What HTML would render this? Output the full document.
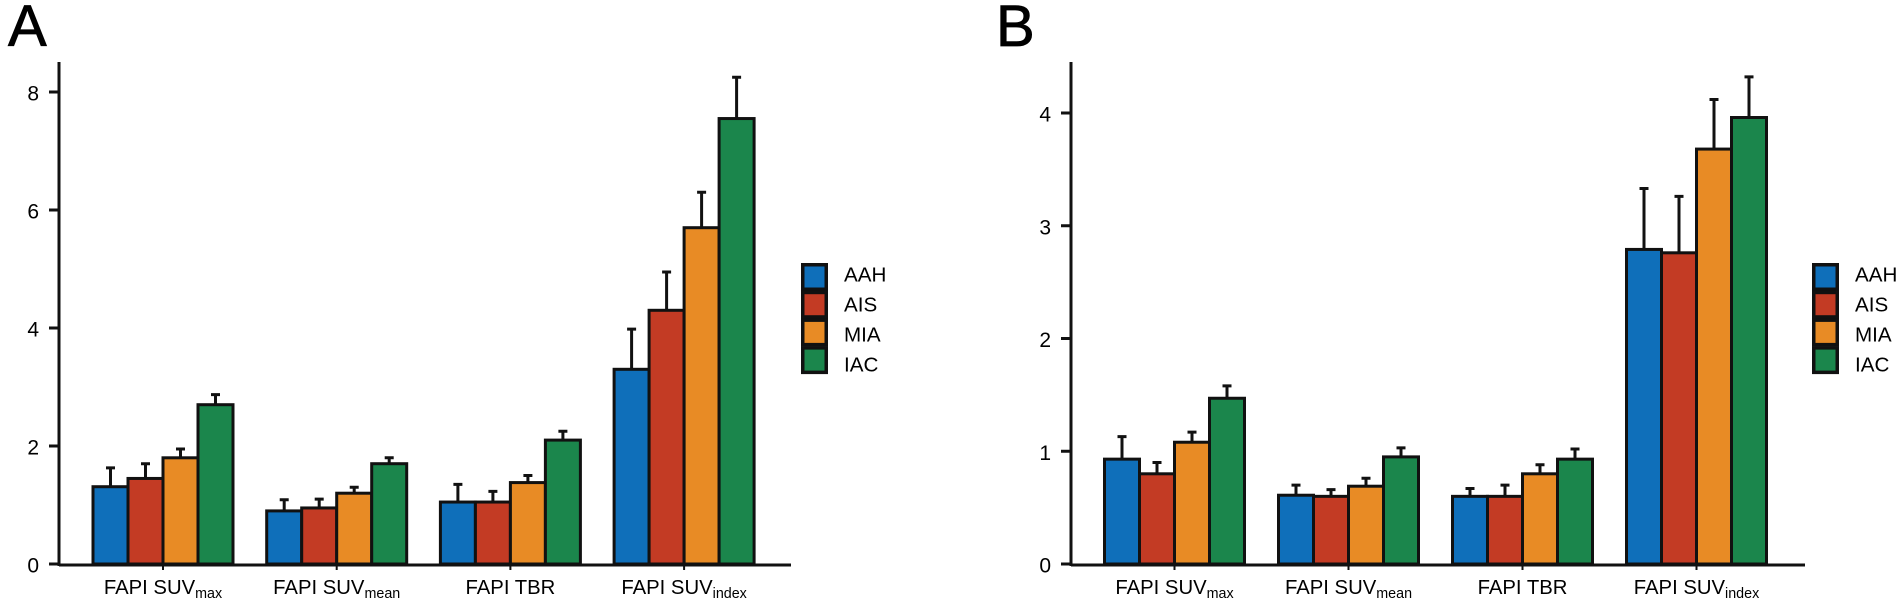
<!DOCTYPE html>
<html lang="en">
<head>
<meta charset="utf-8">
<title>FAPI uptake bar charts</title>
<style>
html,body{margin:0;padding:0;background:#fff;width:1902px;height:608px;overflow:hidden}
svg{display:block;font-family:"Liberation Sans",Arial,sans-serif}
</style>
</head>
<body>
<svg id="figure" width="1902" height="608" viewBox="0 0 1902 608" xmlns="http://www.w3.org/2000/svg"></svg>
<script>
const seriesNames = ['AAH', 'AIS', 'MIA', 'IAC'];
const seriesColors = ['#0f6fba', '#c33b24', '#e88b25', '#1b864c'];
const categoryMain = ['FAPI SUV', 'FAPI SUV', 'FAPI TBR', 'FAPI SUV'];
const categorySub = ['max', 'mean', '', 'index'];

const ticksA = [0, 2, 4, 6, 8];
const aahA = [1.31, 0.90, 1.05, 3.30];
const aisA = [1.45, 0.95, 1.05, 4.30];
const miaA = [1.80, 1.20, 1.38, 5.70];
const iacA = [2.70, 1.70, 2.10, 7.55];
const aahTopA = [1.63, 1.09, 1.35, 3.98];
const aisTopA = [1.70, 1.10, 1.23, 4.95];
const miaTopA = [1.95, 1.30, 1.50, 6.30];
const iacTopA = [2.87, 1.80, 2.25, 8.25];

const ticksB = [0, 1, 2, 3, 4];
const aahB = [0.93, 0.61, 0.60, 2.79];
const aisB = [0.80, 0.60, 0.60, 2.76];
const miaB = [1.08, 0.69, 0.80, 3.68];
const iacB = [1.47, 0.95, 0.93, 3.96];
const aahTopB = [1.13, 0.70, 0.67, 3.33];
const aisTopB = [0.90, 0.66, 0.70, 3.26];
const miaTopB = [1.17, 0.76, 0.88, 4.12];
const iacTopB = [1.58, 1.03, 1.02, 4.32];

const svg = document.getElementById('figure');
const NS = 'http://www.w3.org/2000/svg';
const INK = '#111';

function make(parent, tag, attrs, text) {
  const el = document.createElementNS(NS, tag);
  for (const k in attrs) el.setAttribute(k, attrs[k]);
  if (text !== undefined) el.textContent = text;
  parent.appendChild(el);
  return el;
}

function drawPanel(cfg) {
  const g = make(svg, 'g', {});
  
  

  const y = v => cfg.y0 - v * cfg.unit;
  const groupX = i => cfg.x0 + i * cfg.groupStep;
  const barX = (i, s) => groupX(i) + s * cfg.barStep;

  const letter = make(g, 'text', {x: cfg.letterX, y: 46, 'font-size': 58, fill: '#000', stroke: '#000', 'stroke-width': 0.8}, cfg.id.toUpperCase());
  
  

  cfg.series.forEach((vals, s) => {
    vals.forEach((v, i) => {
      const cx = barX(i, s) + cfg.barStep / 2;
      const top = cfg.tops[s][i];
      const err = make(g, 'path', {
        d: 'M' + cx + ' ' + y(v) + 'V' + y(top) + 'M' + (cx - 4.5) + ' ' + y(top) + 'H' + (cx + 4.5),
        stroke: INK, 'stroke-width': 3, fill: 'none'
      });
      
      
    });
  });

  cfg.series.forEach((vals, s) => {
    vals.forEach((v, i) => {
      const bar = make(g, 'rect', {
        x: barX(i, s), y: y(v), width: cfg.barStep, height: cfg.y0 - y(v),
        fill: seriesColors[s], stroke: INK, 'stroke-width': 3
      });
      
      
    });
  });

  const yAxis = make(g, 'line', {x1: cfg.axisX, x2: cfg.axisX, y1: 62, y2: cfg.y0 + 2, stroke: INK, 'stroke-width': 3});
  
  
  const xAxis = make(g, 'line', {x1: cfg.axisX, x2: cfg.axisEnd, y1: cfg.y0 + 1, y2: cfg.y0 + 1, stroke: INK, 'stroke-width': 3});
  
  

  cfg.ticks.forEach(t => {
    const tick = make(g, 'line', {x1: cfg.axisX - 10, x2: cfg.axisX, y1: y(t), y2: y(t), stroke: INK, 'stroke-width': 3});
    
    
    const lab = make(g, 'text', {x: cfg.axisX - 20, y: y(t) + 8.5, 'font-size': 21, 'text-anchor': 'end', fill: '#000'}, String(t));
    
    
  });

  categoryMain.forEach((name, i) => {
    const cx = groupX(i) + cfg.barStep * 2;
    const tick = make(g, 'line', {x1: cx, x2: cx, y1: cfg.y0, y2: cfg.y0 + 6, stroke: INK, 'stroke-width': 2});
    
    
    const lab = make(g, 'text', {x: cx, y: 594, 'font-size': 20.3, 'text-anchor': 'middle', fill: '#000'});
    
    
    make(lab, 'tspan', {}, name);
    if (categorySub[i]) make(lab, 'tspan', {dy: 4, 'font-size': 14.3}, categorySub[i]);
  });

  seriesNames.forEach((name, s) => {
    const item = make(g, 'g', {});
    
    
    make(item, 'rect', {
      x: cfg.legendX + 1.75, y: 264.75 + s * 27.7, width: 23.5, height: 24.5,
      fill: seriesColors[s], stroke: INK, 'stroke-width': 3.5
    });
    make(item, 'text', {x: cfg.legendX + 43, y: 281.5 + s * 30, 'font-size': 20.6, fill: '#000'}, name);
  });
}

drawPanel({
  id: 'a', letterX: 8, axisX: 59, axisEnd: 791, y0: 564, unit: 59,
  x0: 93, groupStep: 173.7, barStep: 35, legendX: 801, ticks: ticksA,
  series: [aahA, aisA, miaA, iacA],
  tops: [aahTopA, aisTopA, miaTopA, iacTopA]
});
drawPanel({
  id: 'b', letterX: 996, axisX: 1071, axisEnd: 1805, y0: 564, unit: 112.75,
  x0: 1104.5, groupStep: 174, barStep: 35, legendX: 1812, ticks: ticksB,
  series: [aahB, aisB, miaB, iacB],
  tops: [aahTopB, aisTopB, miaTopB, iacTopB]
});
</script>
</body>
</html>
